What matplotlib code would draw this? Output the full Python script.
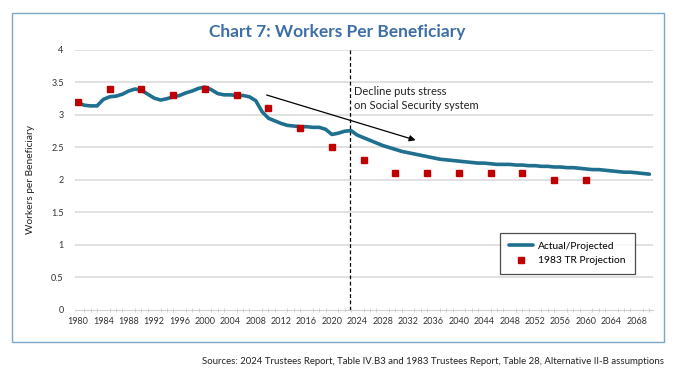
import numpy as np
import matplotlib
matplotlib.use("Agg")
import matplotlib.pyplot as plt
from matplotlib.patches import Rectangle

# ===================== data =====================
years = list(range(1980, 2071))
workers = [
    3.19, 3.15, 3.14, 3.14, 3.24, 3.28, 3.29, 3.32, 3.37, 3.40,   # 1980-1989
    3.38, 3.32, 3.26, 3.23, 3.25, 3.28, 3.30, 3.34, 3.37, 3.41,   # 1990-1999
    3.43, 3.39, 3.33, 3.31, 3.31, 3.30, 3.30, 3.28, 3.22, 3.05,   # 2000-2009
    2.95, 2.91, 2.87, 2.84, 2.83, 2.82, 2.82, 2.81, 2.81, 2.78,   # 2010-2019
    2.70, 2.72, 2.75, 2.76, 2.69, 2.65, 2.61, 2.57, 2.53, 2.50,   # 2020-2029
    2.47, 2.44, 2.42, 2.40, 2.38, 2.36, 2.34, 2.32, 2.31, 2.30,   # 2030-2039
    2.29, 2.28, 2.27, 2.26, 2.26, 2.25, 2.24, 2.24, 2.24, 2.23,   # 2040-2049
    2.23, 2.22, 2.22, 2.21, 2.21, 2.20, 2.20, 2.19, 2.19, 2.18,   # 2050-2059
    2.17, 2.16, 2.16, 2.15, 2.14, 2.13, 2.12, 2.12, 2.11, 2.10,   # 2060-2069
    2.09,                                                         # 2070
]
tr1983_years = [1980, 1985, 1990, 1995, 2000, 2005, 2010, 2015, 2020,
                2025, 2030, 2035, 2040, 2045, 2050, 2055, 2060]
tr1983_vals = [3.2, 3.4, 3.4, 3.3, 3.4, 3.3, 3.1, 2.8, 2.5,
               2.3, 2.1, 2.1, 2.1, 2.1, 2.1, 2.0, 2.0]
tick_years = list(range(1980, 2069, 4))
y_ticks = [0, 0.5, 1, 1.5, 2, 2.5, 3, 3.5, 4]
y_labels = ["0", "0.5", "1", "1.5", "2", "2.5", "3", "3.5", "4"]
# ================================================

LINE_C = "#1F6F8F"
RED = "#C00000"
TITLE_C = "#3D6FA6"
FRAME_C = "#7BA7CB"
FONT = ["Lato", "DejaVu Sans"]

plt.rcParams['font.family'] = FONT

fig = plt.figure(figsize=(6.75, 3.72), dpi=100)

# outer frame
fig.patches.append(Rectangle((0.018, 0.081), 0.966, 0.884, transform=fig.transFigure,
                             fill=False, edgecolor=FRAME_C, linewidth=1.0))

ax = fig.add_axes([0.1108, 0.1667, 0.856, 0.6989])

for y in y_ticks[1:]:
    ax.axhline(y, color="#DCDCDC", linewidth=1.2, zorder=0)

ax.plot(years, workers, color=LINE_C, linewidth=2.6, solid_joinstyle="round",
        solid_capstyle="round", label="Actual/Projected", zorder=3)
ax.plot(tr1983_years, tr1983_vals, linestyle="none", marker="s", markersize=4,
        color=RED, label="1983 TR Projection", zorder=4)

ax.axvline(2022.8, color="black", linestyle=(0, (3, 2)), linewidth=0.9, zorder=2)

ax.annotate("", xy=(2033.6, 2.60), xytext=(2009.3, 3.32),
            arrowprops=dict(arrowstyle="-|>", color="black", lw=0.9,
                            mutation_scale=9))
ax.text(2023.4, 3.44, "Decline puts stress\non Social Security system",
        fontsize=8, color="#222222", va="top", ha="left", linespacing=1.3)

ax.set_xlim(1979.5, 2070.5)
ax.set_ylim(0, 4)
ax.set_xticks(tick_years)
ax.set_xticklabels([str(y) for y in tick_years])
ax.set_xticks(years, minor=True)
ax.set_yticks(y_ticks)
ax.set_yticklabels(y_labels)

for s in ["top", "right", "left"]:
    ax.spines[s].set_visible(False)
ax.spines["bottom"].set_color("#D0D0D0")
ax.spines["bottom"].set_linewidth(0.8)

ax.tick_params(axis="y", length=0, labelsize=6.5, pad=8, labelcolor="#333333")
ax.tick_params(axis="x", which="major", length=0, labelsize=6.5, pad=5,
               labelcolor="#333333")
ax.tick_params(axis="x", which="minor", direction="inout", length=3,
               width=0.6, color="#C8C8C8")

ax.set_ylabel("Workers per Beneficiary", fontsize=7.3, color="#222222", labelpad=12)

leg = ax.legend(loc="lower right", bbox_to_anchor=(0.969, 0.138), fontsize=7.4,
                frameon=True, fancybox=False, handlelength=2.3, borderpad=0.85,
                labelspacing=0.5, handletextpad=0.55, borderaxespad=0)
leg.get_frame().set_edgecolor("#222222")
leg.get_frame().set_linewidth(0.9)

fig.text(0.5, 0.913, "Chart 7: Workers Per Beneficiary", ha="center", va="center",
         fontsize=12.5, fontweight="bold", color=TITLE_C)
fig.text(0.983, 0.016, "Sources: 2024 Trustees Report, Table IV.B3 and 1983 Trustees Report, "
         "Table 28, Alternative II-B assumptions", ha="right", va="bottom",
         fontsize=6.9, color="#222222")

fig.savefig("out.png", dpi=100)
